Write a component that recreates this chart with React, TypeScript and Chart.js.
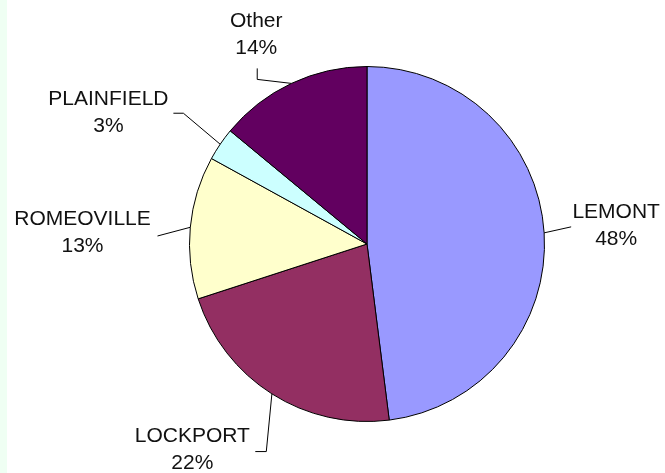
import React, { useEffect, useRef } from "react";
import { Chart, registerables } from "chart.js";

Chart.register(...registerables);

const categories = ["LEMONT", "LOCKPORT", "ROMEOVILLE", "PLAINFIELD", "Other"];
const values = [48, 22, 13, 3, 14];
const percentLabels = ["48%", "22%", "13%", "3%", "14%"];
const sliceColors = ["#9999ff", "#932f62", "#ffffcc", "#ccffff", "#620060"];

// Label layout relative to each slice's outer mid-point: leader bends and text block centre
const labelLayout: { bends: number[][]; text: number[] }[] = [
  { bends: [[27, -6]], text: [72, -7] },
  { bends: [[-5.6, 57.7], [-16.6, 57.7]], text: [-79.6, 55.7] },
  { bends: [[-32.8, 8.7]], text: [-107.8, 5.7] },
  { bends: [[-36.8, -31], [-46.8, -31]], text: [-111.8, -31.5] },
  { bends: [[-34.2, -4], [-34.2, -15]], text: [-35.2, -48.5] },
];

const FONT_SIZE = 21;
const LINE_GAP = 27;

const labelPlugin = {
  id: "outerLabels",
  afterDraw(chart: any) {
    const ctx = chart.ctx;
    const meta = chart.getDatasetMeta(0);
    ctx.save();
    meta.data.forEach((arc: any, i: number) => {
      const { x, y, startAngle, endAngle, outerRadius } = arc.getProps(
        ["x", "y", "startAngle", "endAngle", "outerRadius"],
        true
      );
      const mid = (startAngle + endAngle) / 2;
      const ex = x + Math.cos(mid) * outerRadius;
      const ey = y + Math.sin(mid) * outerRadius;
      const lay = labelLayout[i];
      ctx.strokeStyle = "#000";
      ctx.lineWidth = 1;
      ctx.beginPath();
      ctx.moveTo(ex, ey);
      lay.bends.forEach((b) => ctx.lineTo(ex + b[0], ey + b[1]));
      ctx.stroke();
      const tx = ex + lay.text[0];
      const ty = ey + lay.text[1];
      ctx.fillStyle = "#111";
      ctx.font = `${FONT_SIZE}px "Liberation Sans", Arial, sans-serif`;
      ctx.textAlign = "center";
      ctx.textBaseline = "middle";
      ctx.fillText(categories[i], tx, ty - LINE_GAP / 2);
      ctx.fillText(percentLabels[i], tx, ty + LINE_GAP / 2);
    });
    ctx.restore();
  },
};

export default function App() {
  const ref = useRef<HTMLCanvasElement>(null);
  useEffect(() => {
    document.body.style.margin = "0";
    const chart = new Chart(ref.current as HTMLCanvasElement, {
      type: "pie",
      data: {
        labels: categories,
        datasets: [
          {
            data: values,
            backgroundColor: sliceColors,
            borderColor: "#000",
            borderWidth: 1,
          },
        ],
      },
      options: {
        animation: false,
        responsive: false,
        maintainAspectRatio: false,
        layout: { padding: { left: 189, right: 120, top: 66, bottom: 51 } },
        plugins: {
          legend: { display: false },
          tooltip: { enabled: false },
        },
      },
      plugins: [labelPlugin],
    });
    return () => chart.destroy();
  }, []);
  return (
    <div
      style={{
        width: 665,
        height: 473,
        background: "#fff",
        position: "relative",
        overflow: "hidden",
      }}
    >
      <div
        style={{
          position: "absolute",
          left: 0,
          top: 0,
          width: 7,
          height: 473,
          background: "#effff3",
        }}
      />
      <canvas
        ref={ref}
        width={665}
        height={473}
        style={{ position: "absolute", left: 0, top: 0, width: 665, height: 473 }}
      />
    </div>
  );
}
